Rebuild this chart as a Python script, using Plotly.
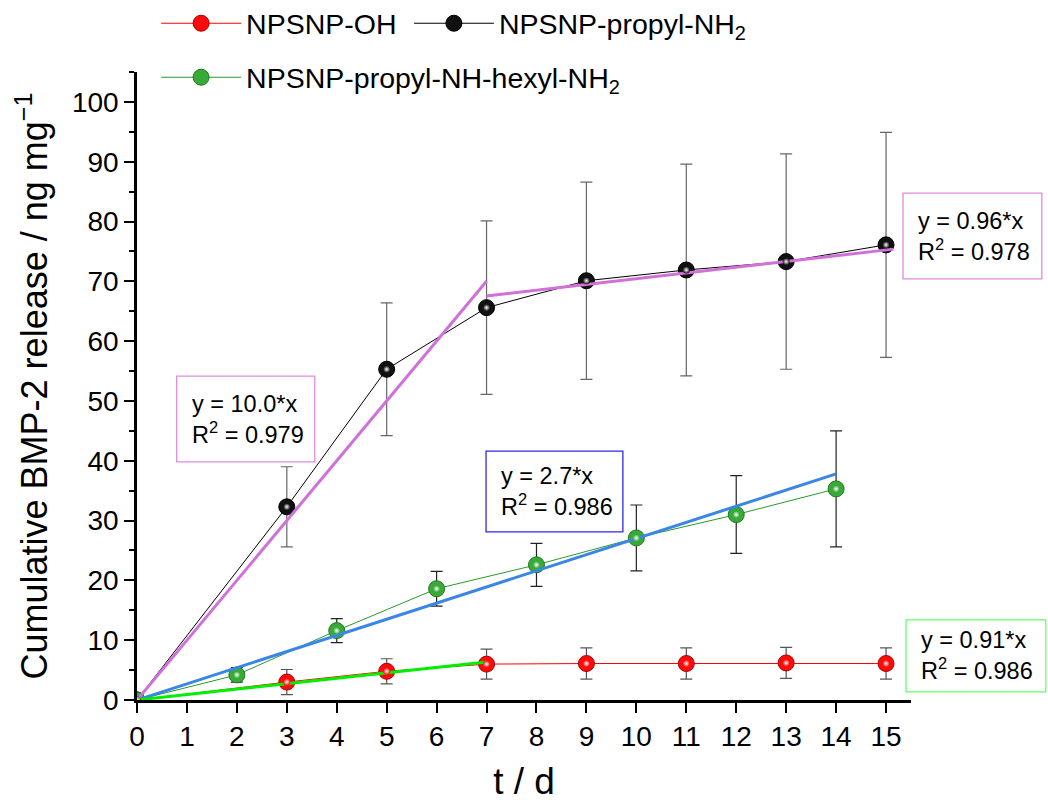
import plotly.graph_objects as go

# Cumulative BMP-2 release of three particle types (mean ± SD)
days_oh = [0, 3, 5, 7, 9, 11, 13, 15]
release_oh = [0, 3.0, 4.8, 6.0, 6.1, 6.1, 6.2, 6.1]
sd_oh = [0, 2.1, 2.1, 2.5, 2.6, 2.6, 2.6, 2.6]

days_nh2 = [0, 3, 5, 7, 9, 11, 13, 15]
release_nh2 = [0, 32.3, 55.3, 65.6, 70.1, 71.9, 73.3, 76.1]
sd_nh2 = [0, 6.7, 11.1, 14.5, 16.5, 17.7, 18.0, 18.8]

days_hex = [0, 2, 4, 6, 8, 10, 12, 14]
release_hex = [0, 4.2, 11.6, 18.6, 22.6, 27.1, 31.0, 35.3]
sd_hex = [0, 1.2, 2.0, 2.9, 3.6, 5.5, 6.5, 9.7]

# Linear fits: slope, R², fitted day range
fit_slopes = [10.0, 0.96, 2.7, 0.91]
fit_r2 = [0.979, 0.978, 0.986, 0.986]
fit_ranges = [(0, 7), (7, 15.15), (0, 14), (0, 7)]

names = ["NPSNP-OH", "NPSNP-propyl-NH<sub>2</sub>", "NPSNP-propyl-NH-hexyl-NH<sub>2</sub>"]

FONT = "Liberation Sans, Arial, sans-serif"
X_RANGE = [0, 15.5]
Y_RANGE = [0, 105]

fig = go.Figure()

series = [
    (days_oh, release_oh, sd_oh, "#ff0000", "#ff0a0a", "#b00000", "#555555", "legend"),
    (days_nh2, release_nh2, sd_nh2, "#000000", "#111111", "#000000", "#666666", "legend3"),
    (days_hex, release_hex, sd_hex, "#2a9a2a", "#38aa38", "#1f7a1f", "#222222", "legend2"),
]

for (x, y, sd, lc, mc, edge, ec, lg), name in zip(series, names):
    fig.add_trace(go.Scatter(
        x=x, y=y, name=name, mode="lines+markers", legend=lg,
        line=dict(color=lc, width=1),
        marker=dict(size=16, color=mc, line=dict(width=1, color=edge)),
        error_y=dict(type="data", array=sd, visible=True, color=ec,
                     thickness=1.2, width=6),
    ))

# Straight-line fits through the release data
fit_colors = ["#d070d8", "#d070d8", "#3a86e6", "#00ee00"]
# intercept of the late-phase fit from the centroid of days 7-15
late_x = [d for d in days_nh2 if d >= 7]
late_y = [v for d, v in zip(days_nh2, release_nh2) if d >= 7]
late_b = sum(late_y) / len(late_y) - fit_slopes[1] * sum(late_x) / len(late_x)
intercepts = [0, late_b, 0, 0]
for m, b, (x0, x1), c in zip(fit_slopes, intercepts, fit_ranges, fit_colors):
    fig.add_trace(go.Scatter(
        x=[x0, x1], y=[m * x0 + b, m * x1 + b], mode="lines",
        line=dict(color=c, width=3), showlegend=False, hoverinfo="skip",
    ))

# Specular highlight on the ball markers
for (x, y, sd, lc, mc, edge, ec, lg) in series:
    fig.add_trace(go.Scatter(
        x=x, y=y, mode="markers", showlegend=False, hoverinfo="skip",
        marker=dict(size=7, color=mc, line=dict(width=0),
                    gradient=dict(type="radial", color="#ffffff")),
    ))


def to_paper_x(v):
    return (v - X_RANGE[0]) / (X_RANGE[1] - X_RANGE[0])


def to_paper_y(v):
    return (v - Y_RANGE[0]) / (Y_RANGE[1] - Y_RANGE[0])


# Fit equation boxes: (left, right, bottom, top) in axis units, border colour, fit index
boxes = [
    ((0.795, 3.56, 39.8, 54.15), "#e08ce0", 0),
    ((15.34, 18.12, 70.4, 84.75), "#e08ce0", 1),
    ((6.99, 9.73, 28.1, 41.6), "#2a2ae6", 2),
    ((15.40, 18.20, 1.35, 13.4), "#66ff66", 3),
]
for (x0, x1, y0, y1), bc, k in boxes:
    fig.add_shape(
        type="rect", xref="paper", yref="paper",
        x0=to_paper_x(x0), x1=to_paper_x(x1), y0=to_paper_y(y0), y1=to_paper_y(y1),
        line=dict(color=bc, width=1.3), fillcolor="rgba(0,0,0,0)", layer="above",
    )
    fig.add_annotation(
        x=to_paper_x(x0 + 0.26), y=to_paper_y((y0 + y1) / 2), xref="paper", yref="paper",
        xanchor="left", yanchor="middle",
        text=f"y = {fit_slopes[k]}*x<br>R<sup>2</sup> = {fit_r2[k]}",
        showarrow=False, align="left",
        font=dict(family=FONT, size=23.5, color="#000000"),
    )

axis_common = dict(
    showline=True, linecolor="#000000", linewidth=2.5, ticks="outside",
    ticklen=10, tickwidth=2, tickcolor="#000000", showgrid=False, zeroline=False,
    tickfont=dict(family=FONT, size=28, color="#000000"), automargin=False,
)

fig.update_xaxes(range=X_RANGE, tick0=0, dtick=1,
                 title=dict(text="t / d", font=dict(family=FONT, size=37, color="#000000"),
                            standoff=22),
                 **axis_common)
fig.update_yaxes(range=Y_RANGE, tick0=0, dtick=10,
                 minor=dict(dtick=5, ticklen=5, tickwidth=2, ticks="outside", tickcolor="#000000"),
                 title=dict(text="Cumulative BMP-2 release / ng mg<sup>\u22121</sup>",
                            font=dict(family=FONT, size=36, color="#000000"), standoff=14),
                 **axis_common)

legend_style = dict(orientation="h", xanchor="left", yanchor="top",
                    font=dict(family=FONT, size=28.5, color="#000000"),
                    itemwidth=80, bgcolor="rgba(0,0,0,0)")

fig.update_layout(
    width=1048, height=802,
    margin=dict(l=137, r=137, t=72, b=102, autoexpand=False),
    plot_bgcolor="#ffffff", paper_bgcolor="#ffffff",
    legend=dict(x=0.0247, y=1.1175, **legend_style),
    legend3=dict(x=0.3513, y=1.1175, **legend_style),
    legend2=dict(x=0.0247, y=1.0315, **legend_style),
)

fig.write_html("out.html")
